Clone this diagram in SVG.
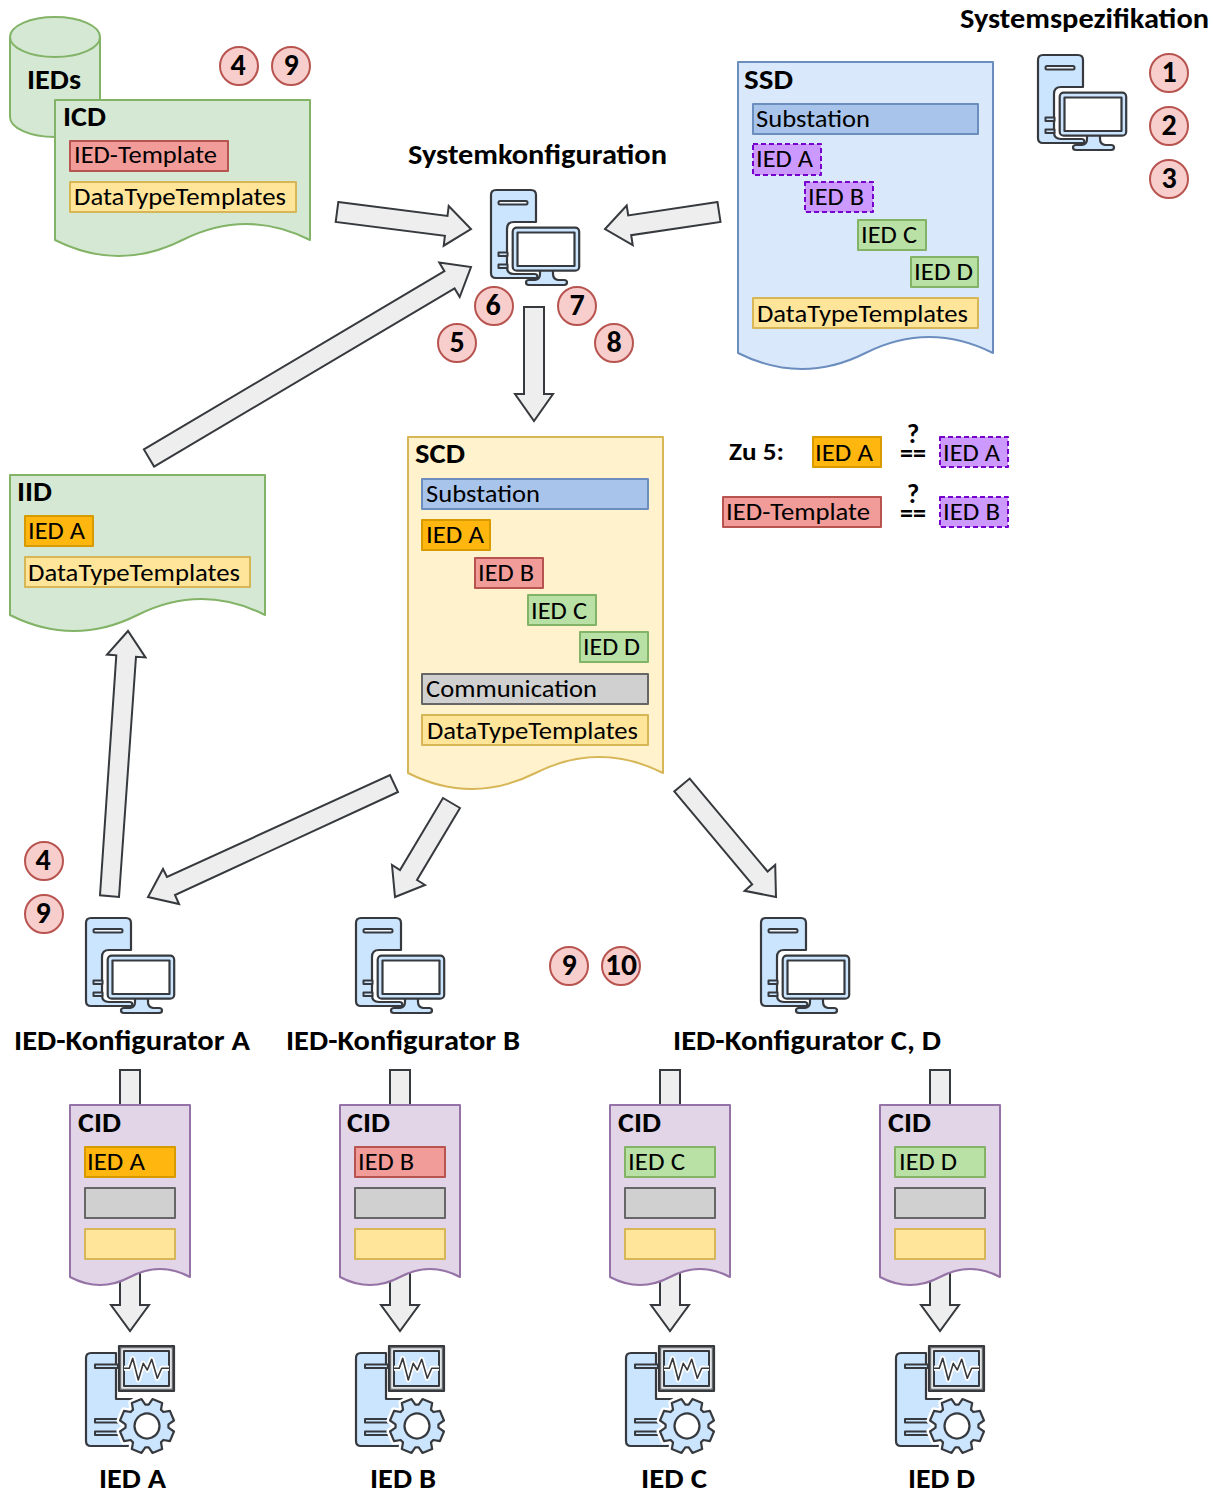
<svg xmlns="http://www.w3.org/2000/svg" width="1221" height="1495" viewBox="0 0 1221 1495">
<style>
text{font-family:Carlito,Lato,"Open Sans",sans-serif;fill:#000}
.t{font-size:24.5px}
.b{font-size:29px;font-weight:700;transform:translateY(-1px)}
.n{font-size:30px;font-weight:700;text-anchor:middle;transform:translateY(-1px)}
.s{font-size:24px;font-weight:700}
.q{font-size:27px;font-weight:700;text-anchor:middle}
rect,path,polygon,circle,ellipse{stroke-linejoin:round}
.arr polygon{fill:#eeeeee;stroke:#36393d;stroke-width:2;stroke-linejoin:miter}
.green{fill:#d5e8d4;stroke:#82b366;stroke-width:2}
.blue{fill:#dae8fc;stroke:#6c8ebf;stroke-width:2}
.cream{fill:#fff2cc;stroke:#d6b656;stroke-width:2}
.purple{fill:#e1d5e7;stroke:#9673a6;stroke-width:2}
.sub{fill:#a9c4eb;stroke:#6c8ebf;stroke-width:2}
.dtt{fill:#ffe599;stroke:#d6b656;stroke-width:2}
.red{fill:#f19c99;stroke:#b85450;stroke-width:2}
.org{fill:#ffb70f;stroke:#d79b00;stroke-width:2}
.grn{fill:#b9e0a5;stroke:#82b366;stroke-width:2}
.gry{fill:#d0d0d0;stroke:#666666;stroke-width:2}
.vio{fill:#cc99ff;stroke:#7700cc;stroke-width:2;stroke-dasharray:5 3}
.c{fill:#f8cecc;stroke:#b85450;stroke-width:2}
.ic{fill:#cce5ff;stroke:#36393d;stroke-width:2.2}
.tb{fill:#cce5ff;stroke:#36393d;stroke-width:2}
</style>
<defs>
<g id="pc">
<g transform="translate(1,0)">
<path class="ic" d="M5,0H40Q45,0 45,5V32H23Q16,32 16,39V77Q16,84 23,84H44Q47,84 46,88H5Q0,88 0,83V5Q0,0 5,0Z"/>
<rect class="tb" x="7.5" y="11" width="29" height="3.5" rx="1.5" style="fill:#eef6ff"/>
<rect class="tb" x="7.5" y="62.5" width="9" height="3.5"/>
<rect class="tb" x="7.5" y="74.5" width="9" height="3.5"/>
<path class="ic" d="M49,80V84Q49,89 44,90H38Q35,90 35,92.5T38,95H73Q76,95 76,92.5T73,90H67Q62,89 62,84V80Z"/>
<rect class="ic" x="21.7" y="37.7" width="66.5" height="43" rx="4"/>
<rect x="26.5" y="42.5" width="57" height="33.5" fill="#fff" stroke="#36393d" stroke-width="2.2"/>
</g>
</g>
<path id="gearp" d="M20.45,-6.64L26.99,-5.25L26.99,5.25L20.45,6.64L19.16,9.76L22.8,15.38L15.38,22.8L9.76,19.16L6.64,20.45L5.25,26.99L-5.25,26.99L-6.64,20.45L-9.76,19.16L-15.38,22.8L-22.8,15.38L-19.16,9.76L-20.45,6.64L-26.99,5.25L-26.99,-5.25L-20.45,-6.64L-19.16,-9.76L-22.8,-15.38L-15.38,-22.8L-9.76,-19.16L-6.64,-20.45L-5.25,-26.99L5.25,-26.99L6.64,-20.45L9.76,-19.16L15.38,-22.8L22.8,-15.38L19.16,-9.76Z"/>
<g id="ied">
<path class="ic" d="M31,8H6Q1,8 1,13V96Q1,101 6,101H47V54H31Z"/>
<rect class="tb" x="10" y="19.5" width="23" height="3.5"/>
<rect class="tb" x="10" y="74" width="30" height="3.5"/>
<rect class="tb" x="10" y="86.5" width="30" height="3.5"/>
<rect x="34" y="1" width="55" height="45" fill="#6f7275" stroke="#36393d" stroke-width="2.2"/>
<rect x="37" y="4" width="49" height="39" fill="#cce5ff" stroke="#e6e6e6" stroke-width="1.6"/>
<rect x="39" y="6" width="45" height="35" fill="#cce5ff" stroke="#36393d" stroke-width="2"/>
<path d="M39,23.3H44.3L47.7,13.3L53.3,35L58.3,18.3L62.3,25L66.7,14.3L72.3,33.3L76.7,23.3H84" fill="none" stroke="#fff" stroke-width="5"/>
<path d="M39,23.3H44.3L47.7,13.3L53.3,35L58.3,18.3L62.3,25L66.7,14.3L72.3,33.3L76.7,23.3H84" fill="none" stroke="#36393d" stroke-width="1.6"/>
<g transform="translate(62,81) rotate(22.5)">
<use href="#gearp" fill="#fff" stroke="#fff" stroke-width="7"/>
<use href="#gearp" fill="#cce5ff" stroke="#36393d" stroke-width="2.2"/>
<circle r="12.5" fill="#fff" stroke="#36393d" stroke-width="2.2"/>
</g>
</g>
<path id="cidshape" d="M0,0H120V172Q90,156 60,172Q30,188 0,172Z"/>
</defs>

<g id="connectors" class="arr">
<polygon points="338.3,202.1 447.5,216 448.7,206 471,229 443.7,245.7 444.9,235.8 335.7,221.9"/>
<polygon points="717.5,202.1 628.2,215.4 626.7,205.5 605,229 632.7,245.1 631.2,235.2 720.5,221.9"/>
<polygon points="524,307 544,307 544,394 553,394 534,421 515,394 524,394"/>
<polygon points="154.1,466.6 454.6,288.4 459.7,297 471,267 439.3,262.6 444.4,271.2 143.9,449.4"/>
<polygon points="119,897 136,656.7 145.5,657.4 128,631 107,654.6 116.3,655.3 100,895.3"/>
<polygon points="398,792 175,895 179,904 148,897 163,869 167,877 390,775"/>
<polygon points="460,808 417,880 425,885 395,897 392,865 400,870 443,798"/>
<polygon points="674.3,791.4 752.2,884.3 744.6,890.8 776,897 775.2,865 767.6,871.5 689.7,778.6"/>
<polygon points="120,1070 140,1070 140,1305 149,1305 130,1331 111,1305 120,1305"/>
<polygon points="390,1070 410,1070 410,1305 419,1305 400,1331 381,1305 390,1305"/>
<polygon points="660,1070 680,1070 680,1305 689,1305 670,1331 651,1305 660,1305"/>
<polygon points="930,1070 950,1070 950,1305 959,1305 940,1331 921,1305 930,1305"/>
</g>

<g id="ieds-db">
<path class="green" d="M10,37A45,20 0 0 1 100,37V117A45,20 0 0 1 10,117Z"/>
<path class="green" d="M10,37A45,20 0 0 0 100,37" fill="none"/>
<text class="b" x="27" y="90" textLength="54" lengthAdjust="spacingAndGlyphs">IEDs</text>
</g>

<g id="icd">
<path class="green" d="M55,100H310V240Q246.25,208 182.5,240Q118.75,272 55,240Z"/>
<text class="b" x="63" y="127" textLength="43" lengthAdjust="spacingAndGlyphs">ICD</text>
<rect class="red" x="70" y="141" width="158" height="30"/>
<text class="t" x="74" y="163" textLength="143" lengthAdjust="spacingAndGlyphs">IED-Template</text>
<rect class="dtt" x="70" y="182" width="226" height="30"/>
<text class="t" x="74" y="205" textLength="212" lengthAdjust="spacingAndGlyphs">DataTypeTemplates</text>
</g>

<g id="ssd">
<path class="blue" d="M738,62H993V353Q929.25,321 865.5,353Q801.75,385 738,353Z"/>
<text class="b" x="744" y="90" textLength="49" lengthAdjust="spacingAndGlyphs">SSD</text>
<rect class="sub" x="753" y="104" width="225" height="30"/>
<text class="t" x="756" y="127" textLength="114" lengthAdjust="spacingAndGlyphs">Substation</text>
<rect class="vio" x="753" y="144" width="68" height="31"/>
<text class="t" x="756" y="167" textLength="57" lengthAdjust="spacingAndGlyphs">IED A</text>
<rect class="vio" x="805" y="182" width="68" height="30"/>
<text class="t" x="808" y="205" textLength="56" lengthAdjust="spacingAndGlyphs">IED B</text>
<rect class="grn" x="858" y="220" width="68" height="30"/>
<text class="t" x="861" y="243" textLength="56" lengthAdjust="spacingAndGlyphs">IED C</text>
<rect class="grn" x="911" y="257" width="67" height="30"/>
<text class="t" x="914" y="280" textLength="59" lengthAdjust="spacingAndGlyphs">IED D</text>
<rect class="dtt" x="753" y="298" width="225" height="30"/>
<text class="t" x="757" y="322" textLength="211" lengthAdjust="spacingAndGlyphs">DataTypeTemplates</text>
</g>

<g id="scd">
<path class="cream" d="M408,437H663V773Q599.25,741 535.5,773Q471.75,805 408,773Z"/>
<text class="b" x="415" y="464" textLength="50" lengthAdjust="spacingAndGlyphs">SCD</text>
<rect class="sub" x="422" y="479" width="226" height="30"/>
<text class="t" x="426" y="502" textLength="114" lengthAdjust="spacingAndGlyphs">Substation</text>
<rect class="org" x="422" y="520" width="68" height="30"/>
<text class="t" x="426" y="543" textLength="58" lengthAdjust="spacingAndGlyphs">IED A</text>
<rect class="red" x="475" y="558" width="68" height="30"/>
<text class="t" x="478" y="581" textLength="56" lengthAdjust="spacingAndGlyphs">IED B</text>
<rect class="grn" x="528" y="595" width="68" height="30"/>
<text class="t" x="531" y="619" textLength="56" lengthAdjust="spacingAndGlyphs">IED C</text>
<rect class="grn" x="580" y="632" width="68" height="30"/>
<text class="t" x="583" y="655" textLength="57" lengthAdjust="spacingAndGlyphs">IED D</text>
<rect class="gry" x="422" y="674" width="226" height="30"/>
<text class="t" x="426" y="697" textLength="171" lengthAdjust="spacingAndGlyphs">Communication</text>
<rect class="dtt" x="422" y="715" width="226" height="30"/>
<text class="t" x="427" y="739" textLength="211" lengthAdjust="spacingAndGlyphs">DataTypeTemplates</text>
</g>

<g id="iid">
<path class="green" d="M10,475H265V615Q201.25,583 137.5,615Q73.75,647 10,615Z"/>
<text class="b" x="17" y="502" textLength="35" lengthAdjust="spacingAndGlyphs">IID</text>
<rect class="org" x="25" y="516" width="68" height="30"/>
<text class="t" x="28" y="539" textLength="57" lengthAdjust="spacingAndGlyphs">IED A</text>
<rect class="dtt" x="25" y="557" width="225" height="30"/>
<text class="t" x="28" y="581" textLength="212" lengthAdjust="spacingAndGlyphs">DataTypeTemplates</text>
</g>

<g id="legend">
<text class="s" x="729" y="460" textLength="55" lengthAdjust="spacingAndGlyphs">Zu 5:</text>
<rect class="org" x="813" y="437" width="68" height="30"/>
<text class="t" x="815" y="461" textLength="58" lengthAdjust="spacingAndGlyphs">IED A</text>
<text class="q" x="913" y="443">?</text>
<text class="q" x="913" y="462" textLength="26" lengthAdjust="spacingAndGlyphs">==</text>
<rect class="vio" x="940" y="437" width="68" height="30"/>
<text class="t" x="943" y="461" textLength="57" lengthAdjust="spacingAndGlyphs">IED A</text>
<rect class="red" x="723" y="497" width="158" height="30"/>
<text class="t" x="726" y="520" textLength="144" lengthAdjust="spacingAndGlyphs">IED-Template</text>
<text class="q" x="913" y="503">?</text>
<text class="q" x="913" y="522" textLength="26" lengthAdjust="spacingAndGlyphs">==</text>
<rect class="vio" x="940" y="497" width="68" height="30"/>
<text class="t" x="943" y="520" textLength="57" lengthAdjust="spacingAndGlyphs">IED B</text>
</g>

<g id="systemspezifikation">
<text class="b" x="960" y="29" textLength="249" lengthAdjust="spacingAndGlyphs">Systemspezifikation</text>
<use href="#pc" x="1037" y="55"/>
</g>
<g id="systemkonfiguration">
<text class="b" x="408" y="165" textLength="259" lengthAdjust="spacingAndGlyphs">Systemkonfiguration</text>
<use href="#pc" x="490" y="190"/>
</g>
<g id="konfigurator-a">
<use href="#pc" x="85" y="918"/>
<text class="b" x="14" y="1051" textLength="236" lengthAdjust="spacingAndGlyphs">IED-Konfigurator A</text>
</g>
<g id="konfigurator-b">
<use href="#pc" x="355" y="918"/>
<text class="b" x="286" y="1051" textLength="234" lengthAdjust="spacingAndGlyphs">IED-Konfigurator B</text>
</g>
<g id="konfigurator-cd">
<use href="#pc" x="760" y="918"/>
<text class="b" x="673" y="1051" textLength="268" lengthAdjust="spacingAndGlyphs">IED-Konfigurator C, D</text>
</g>

<g id="cid-a">
<use href="#cidshape" x="70" y="1105" class="purple"/>
<text class="b" x="78" y="1133" textLength="43" lengthAdjust="spacingAndGlyphs">CID</text>
<rect class="org" x="85" y="1147" width="90" height="30"/>
<text class="t" x="87" y="1170" textLength="58" lengthAdjust="spacingAndGlyphs">IED A</text>
<rect class="gry" x="85" y="1188" width="90" height="30"/>
<rect class="dtt" x="85" y="1229" width="90" height="30"/>
</g>
<g id="cid-b">
<use href="#cidshape" x="340" y="1105" class="purple"/>
<text class="b" x="347" y="1133" textLength="43" lengthAdjust="spacingAndGlyphs">CID</text>
<rect class="red" x="355" y="1147" width="90" height="30"/>
<text class="t" x="358" y="1170" textLength="56" lengthAdjust="spacingAndGlyphs">IED B</text>
<rect class="gry" x="355" y="1188" width="90" height="30"/>
<rect class="dtt" x="355" y="1229" width="90" height="30"/>
</g>
<g id="cid-c">
<use href="#cidshape" x="610" y="1105" class="purple"/>
<text class="b" x="618" y="1133" textLength="43" lengthAdjust="spacingAndGlyphs">CID</text>
<rect class="grn" x="625" y="1147" width="90" height="30"/>
<text class="t" x="628" y="1170" textLength="57" lengthAdjust="spacingAndGlyphs">IED C</text>
<rect class="gry" x="625" y="1188" width="90" height="30"/>
<rect class="dtt" x="625" y="1229" width="90" height="30"/>
</g>
<g id="cid-d">
<use href="#cidshape" x="880" y="1105" class="purple"/>
<text class="b" x="888" y="1133" textLength="43" lengthAdjust="spacingAndGlyphs">CID</text>
<rect class="grn" x="895" y="1147" width="90" height="30"/>
<text class="t" x="899" y="1170" textLength="58" lengthAdjust="spacingAndGlyphs">IED D</text>
<rect class="gry" x="895" y="1188" width="90" height="30"/>
<rect class="dtt" x="895" y="1229" width="90" height="30"/>
</g>

<g id="ied-a"><use href="#ied" x="85" y="1345"/><text class="b" x="99" y="1489" textLength="67" lengthAdjust="spacingAndGlyphs">IED A</text></g>
<g id="ied-b"><use href="#ied" x="355" y="1345"/><text class="b" x="370" y="1489" textLength="66" lengthAdjust="spacingAndGlyphs">IED B</text></g>
<g id="ied-c"><use href="#ied" x="625" y="1345"/><text class="b" x="641" y="1489" textLength="66" lengthAdjust="spacingAndGlyphs">IED C</text></g>
<g id="ied-d"><use href="#ied" x="895" y="1345"/><text class="b" x="908" y="1489" textLength="67" lengthAdjust="spacingAndGlyphs">IED D</text></g>

<g id="steps">
<circle class="c" cx="1169" cy="73" r="19"/><text class="n" x="1169" y="83">1</text>
<circle class="c" cx="1169" cy="126" r="19"/><text class="n" x="1169" y="136">2</text>
<circle class="c" cx="1169" cy="179" r="19"/><text class="n" x="1169" y="189">3</text>
<circle class="c" cx="239" cy="66" r="19"/><text class="n" x="238" y="76">4</text>
<circle class="c" cx="291" cy="66" r="19"/><text class="n" x="291" y="76">9</text>
<circle class="c" cx="494" cy="306" r="19"/><text class="n" x="493" y="316">6</text>
<circle class="c" cx="577" cy="306" r="19"/><text class="n" x="577" y="316">7</text>
<circle class="c" cx="457" cy="343" r="19"/><text class="n" x="457" y="353">5</text>
<circle class="c" cx="614" cy="343" r="19"/><text class="n" x="614" y="353">8</text>
<circle class="c" cx="44" cy="861" r="19"/><text class="n" x="43" y="871">4</text>
<circle class="c" cx="44" cy="914" r="19"/><text class="n" x="43" y="924">9</text>
<circle class="c" cx="569" cy="966" r="19"/><text class="n" x="569" y="976">9</text>
<circle class="c" cx="621" cy="966" r="19"/><text class="n" x="621" y="976" textLength="32" lengthAdjust="spacingAndGlyphs">10</text>
</g>
</svg>
